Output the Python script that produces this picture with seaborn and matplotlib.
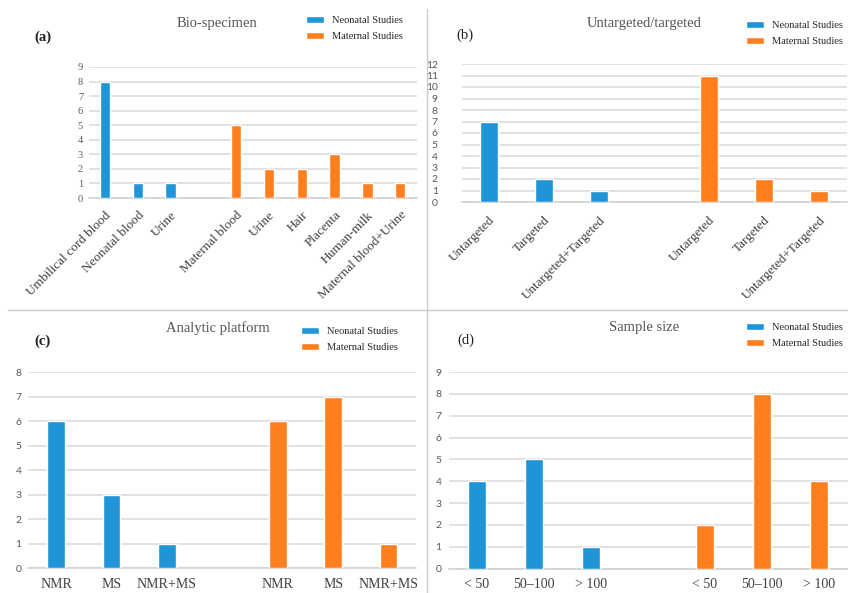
import pandas as pd
import numpy as np
import matplotlib
matplotlib.use("Agg")
import matplotlib.pyplot as plt
import seaborn as sns
from matplotlib.lines import Line2D

# -------------------
# Data
groups = ["Neonatal Studies", "Maternal Studies"]

# (a) Bio-specimen
a_neo_labels = ["Umbilical cord blood", "Neonatal blood", "Urine"]
a_neo_counts = [8, 1, 1]
a_mat_labels = ["Maternal blood", "Urine", "Hair", "Placenta", "Human-milk", "Maternal blood+Urine"]
a_mat_counts = [5, 2, 2, 3, 1, 1]

# (b) Untargeted/targeted
b_neo_labels = ["Untargeted", "Targeted", "Untargeted+Targeted"]
b_neo_counts = [7, 2, 1]
b_mat_labels = ["Untargeted", "Targeted", "Untargeted+Targeted"]
b_mat_counts = [11, 2, 1]

# (c) Analytic platform
c_neo_labels = ["NMR", "MS", "NMR+MS"]
c_neo_counts = [6, 3, 1]
c_mat_labels = ["NMR", "MS", "NMR+MS"]
c_mat_counts = [6, 7, 1]

# (d) Sample size
d_neo_labels = ["< 50", "50\u2013100", "> 100"]
d_neo_counts = [4, 5, 1]
d_mat_labels = ["< 50", "50\u2013100", "> 100"]
d_mat_counts = [2, 8, 4]

colors = {"Neonatal Studies": "#1f95d8", "Maternal Studies": "#ff7f1f"}

sns.set_theme(style="white")
plt.rcParams["font.family"] = ["Liberation Serif", "DejaVu Serif"]

fig = plt.figure(figsize=(8.48, 5.93), dpi=100)
W, H = 848, 593


def panel(rect, letter, title, neo_labels, neo_counts, mat_labels, mat_counts,
          ymax, rotate, tick_font, tick_pad, title_xy, letter_xy, legend_xy, letter_bold,
          xpad):
    # one empty slot between the neonatal and maternal groups
    keys = [f"n{i}" for i in range(len(neo_labels))] + ["gap"] + \
           [f"m{i}" for i in range(len(mat_labels))]
    df = pd.DataFrame({
        "slot": keys[:len(neo_labels)] + keys[len(neo_labels) + 1:],
        "count": neo_counts + mat_counts,
        "group": [groups[0]] * len(neo_labels) + [groups[1]] * len(mat_labels),
    })
    l, b, r, t = rect
    ax = fig.add_axes([l / W, 1 - b / H, (r - l) / W, (b - t) / H])
    sns.barplot(data=df, x="slot", y="count", hue="group", order=keys,
                hue_order=groups, palette=colors, dodge=False, width=0.32,
                saturation=1, ax=ax, zorder=3)
    handles, labs = ax.get_legend_handles_labels()
    ax.get_legend().remove()

    ax.set_xlim(-0.5, len(keys) - 0.5)
    ax.set_ylim(0, ymax)
    ax.set_yticks(range(0, ymax + 1))
    ax.grid(axis="y", color="#d9d9d9", linewidth=1.1, zorder=0)
    ax.set_axisbelow(True)
    for s in ["top", "right", "left"]:
        ax.spines[s].set_visible(False)
    ax.spines["bottom"].set_color("#d0d0d0")
    ax.spines["bottom"].set_linewidth(1.1)
    ax.tick_params(axis="both", length=0)
    ax.tick_params(axis="y", pad=tick_pad, labelsize=7.5, labelcolor="#595959")
    for tl in ax.get_yticklabels():
        tl.set_fontfamily(tick_font)
    ax.set_xlabel("")
    ax.set_ylabel("")

    ax.set_xticks(range(len(keys)))
    ax.set_xticklabels(neo_labels + [""] + mat_labels)
    if rotate:
        ax.tick_params(axis="x", pad=xpad, labelsize=9.5, labelcolor="#404040")
        for tl in ax.get_xticklabels():
            tl.set_rotation(45)
            tl.set_ha("right")
            tl.set_rotation_mode("anchor")
    else:
        ax.tick_params(axis="x", pad=xpad, labelsize=10, labelcolor="#404040")

    fig.text(title_xy[0] / W, 1 - title_xy[1] / H, title, ha="center", va="center",
             fontsize=10.5, color="#555555")
    fig.text(letter_xy[0] / W, 1 - letter_xy[1] / H, letter, ha="left", va="center",
             fontsize=10.5, color="#222222", fontweight="bold" if letter_bold else "normal")
    fig.legend(handles, labs, loc="upper left",
               bbox_to_anchor=(legend_xy[0] / W, 1 - legend_xy[1] / H),
               bbox_transform=fig.transFigure, frameon=False, fontsize=7.5,
               handlelength=1.7, handleheight=0.7, handletextpad=0.75,
               labelspacing=0.65, borderpad=0, borderaxespad=0)
    return ax


panel((88.6, 198, 416.6, 67), "(a)", "Bio-specimen", a_neo_labels, a_neo_counts,
      a_mat_labels, a_mat_counts, 9, True, "Liberation Serif", 4,
      (217, 24), (34, 37), (306, 16), True, 8)
panel((461.5, 202, 846.5, 64), "(b)", "Untargeted/targeted", b_neo_labels, b_neo_counts,
      b_mat_labels, b_mat_counts, 12, True, "Lato", 17,
      (644, 23), (456, 35), (746, 21), False, 9)
panel((28.3, 568.3, 416.3, 372.3), "(c)", "Analytic platform", c_neo_labels, c_neo_counts,
      c_mat_labels, c_mat_counts, 8, False, "Lato", 5,
      (218, 328), (34, 341), (301, 327), True, 7)
panel((448.5, 568.7, 847.5, 372), "(d)", "Sample size", d_neo_labels, d_neo_counts,
      d_mat_labels, d_mat_counts, 9, False, "Lato", 5,
      (644, 328), (457, 340), (746, 323), False, 7)

# panel separators
fig.add_artist(Line2D([427.5 / W, 427.5 / W], [0, 0.985], color="#cccccc", linewidth=1.0))
fig.add_artist(Line2D([0.01, 1], [1 - 310 / H, 1 - 310 / H], color="#cccccc", linewidth=1.0))

fig.savefig("out.png", dpi=100)
